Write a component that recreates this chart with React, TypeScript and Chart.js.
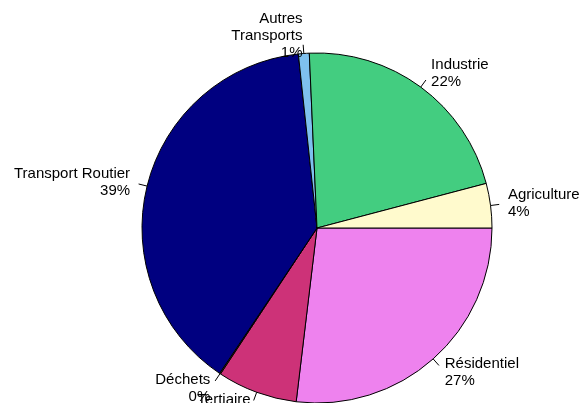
import React, { useEffect, useRef } from "react";
import { Chart, registerables } from "chart.js";

Chart.register(...registerables);

// Data in the original (counter-clockwise from 3 o'clock) order
const categories = [
  "Agriculture",
  "Industrie",
  "Autres\nTransports",
  "Transport Routier",
  "Déchets",
  "Tertiaire",
  "Résidentiel",
];
const values = [4.1, 21.6, 1.0, 38.9, 0.1, 7.4, 26.9];
const pctLabels = ["4%", "22%", "1%", "39%", "0%", "7%", "27%"];
const colors = [
  "#FFFACD",
  "#43CD80",
  "#7EC0EE",
  "#000080",
  "#8B4513",
  "#CD3278",
  "#EE82EE",
];

const FONT = '15px "Liberation Sans", Arial, Helvetica, sans-serif';
const LINE_H = 17;

const labelPlugin = {
  id: "rPieLabels",
  afterDatasetsDraw(chart: any) {
    const ctx = chart.ctx;
    const meta = chart.getDatasetMeta(0);
    const texts: string[] = chart.data.datasets[0].labelTexts;
    ctx.save();
    ctx.font = FONT;
    ctx.fillStyle = "#000";
    ctx.strokeStyle = "#000";
    ctx.lineWidth = 1;
    meta.data.forEach((arc: any, i: number) => {
      const { x, y, startAngle, endAngle, outerRadius } = arc.getProps(
        ["x", "y", "startAngle", "endAngle", "outerRadius"],
        true
      );
      const mid = (startAngle + endAngle) / 2;
      const c = Math.cos(mid);
      const s = Math.sin(mid);
      ctx.beginPath();
      ctx.moveTo(x + outerRadius * c, y + outerRadius * s);
      ctx.lineTo(x + 1.05 * outerRadius * c, y + 1.05 * outerRadius * s);
      ctx.stroke();
      const tx = x + 1.1 * outerRadius * c;
      const ty = y + 1.1 * outerRadius * s;
      const lines = texts[i].split("\n");
      ctx.textAlign = c > 0 ? "left" : "right";
      ctx.textBaseline = "middle";
      const n = lines.length;
      lines.forEach((ln, k) => {
        ctx.fillText(ln, tx, ty + (k - (n - 1) / 2) * LINE_H);
      });
    });
    ctx.restore();
  },
};

export default function App() {
  const ref = useRef<HTMLCanvasElement | null>(null);
  useEffect(() => {
    document.body.style.margin = "0";
    if (!ref.current) return;
    const order = categories.map((_, i) => categories.length - 1 - i);
    const chart = new Chart(ref.current, {
      type: "pie",
      data: {
        labels: order.map((i) => categories[i]),
        datasets: [
          {
            data: order.map((i) => values[i]),
            backgroundColor: order.map((i) => colors[i]),
            borderColor: "#000",
            borderWidth: 1,
            hoverOffset: 0,
            offset: 0,
            radius: 175,
            // @ts-ignore
            labelTexts: order.map((i) => categories[i] + "\n" + pctLabels[i]),
          } as any,
        ],
      },
      options: {
        animation: false,
        responsive: false,
        devicePixelRatio: 1,
        rotation: 90,
        layout: { padding: { left: 142, right: 90, top: 53, bottom: 0 } },
        plugins: {
          legend: { display: false },
          tooltip: { enabled: false },
        },
        events: [],
      },
      plugins: [labelPlugin],
    });
    return () => chart.destroy();
  }, []);
  return (
    <div style={{ width: 582, height: 403, background: "#fff" }}>
      <canvas ref={ref} width={582} height={403} />
    </div>
  );
}
